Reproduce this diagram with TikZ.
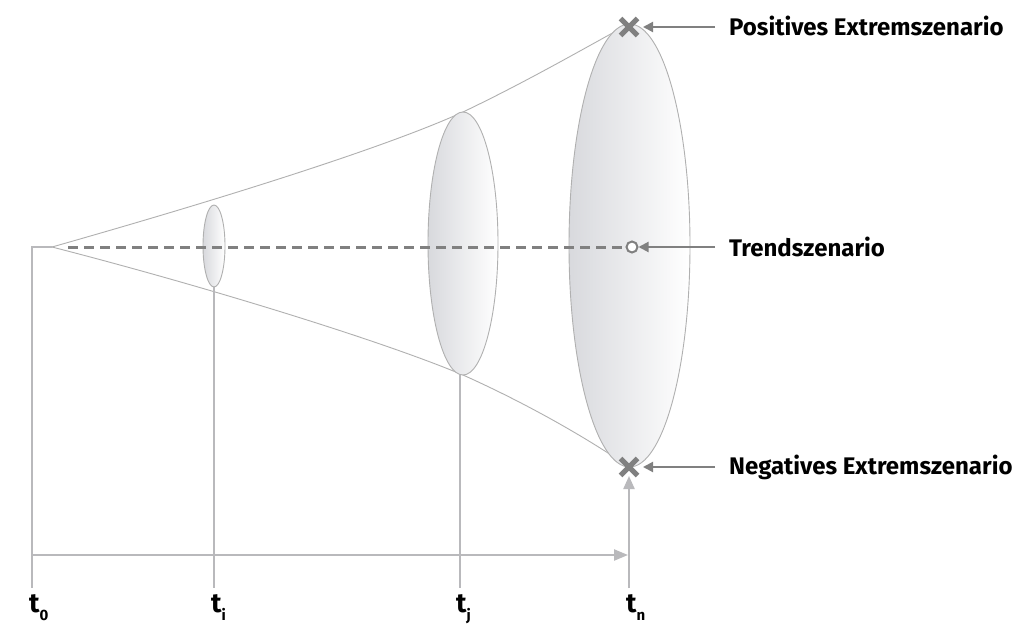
\documentclass[tikz,border=0pt]{standalone}
\usepackage{fontspec}
\setsansfont{Fira Sans}
\usetikzlibrary{arrows.meta,calc}
\definecolor{shade}{RGB}{216,217,221}
\definecolor{edge}{RGB}{176,176,176}
\definecolor{darkg}{RGB}{128,128,128}
\definecolor{axisg}{RGB}{185,185,188}
\tikzset{
  conel/.style={draw=edge,line width=0.9pt},
  ell/.style={draw=edge,line width=0.9pt,left color=shade,right color=white,shading angle=90},
  vline/.style={draw=axisg,line width=1.2pt},
  lab/.style={font=\sffamily\bfseries\fontsize{24}{28}\selectfont,anchor=west,inner sep=0pt},
  tlab/.style={font=\sffamily\bfseries\fontsize{27}{28}\selectfont,anchor=north west,inner sep=0pt},
  pointer/.style={draw=darkg,line width=2pt,-{Triangle[length=10pt,width=10pt]}},
  xmark/.style={draw=darkg,line width=5pt},
}
\begin{document}
\begin{tikzpicture}[x=1pt,y=-1pt]
\useasboundingbox (0,0) rectangle (1034,626);
\fill[white] (0,0) rectangle (1034,626);
% coordinates
\coordinate (apex) at (52,247);
\coordinate (T0) at (32,247);
\coordinate (Tb) at (32,588);
% cone
\draw[conel] (apex) .. controls (200,205) and (380,150) .. (463,112) .. controls (530,80) and (590,45) .. (629,24);
\draw[conel] (apex) .. controls (200,285) and (380,340) .. (463,375) .. controls (530,405) and (590,440) .. (629,467);
% vertical lines
\draw[vline] (apex) -- (T0) -- (Tb);
\draw[vline] (214,287) -- (214,588);
\draw[vline] (460,375) -- (460,588);
% ellipses
\shade[ell] (214,246) ellipse [x radius=11, y radius=41];
\shade[ell] (463,243.5) ellipse [x radius=35, y radius=131.5];
\shade[ell] (629.5,245.5) ellipse [x radius=60.5, y radius=221.5];
% trend dashed line
\node[circle,draw=darkg,line width=2pt,minimum size=11pt,inner sep=0pt,fill=white] (trend) at (632,247) {};
\draw[draw=darkg,line width=3pt,dash pattern=on 10pt off 6pt] (68,247) -- (trend.west);
% axis
\draw[draw=axisg,line width=2.2pt,-{Triangle[length=14pt,width=11pt]}] (32,555) -- (628,555);
\draw[draw=axisg,line width=2.2pt,-{Triangle[length=13pt,width=11pt]}] (629,588) -- (629,476);
% X marks
\coordinate (xp) at (629,27);
\coordinate (xn) at (629,467);
\draw[xmark] ($(xp)+(-8.5,-8.5)$) -- ($(xp)+(8.5,8.5)$) ($(xp)+(-8.5,8.5)$) -- ($(xp)+(8.5,-8.5)$);
\draw[xmark] ($(xn)+(-8.5,-8.5)$) -- ($(xn)+(8.5,8.5)$) ($(xn)+(-8.5,8.5)$) -- ($(xn)+(8.5,-8.5)$);
% labels
\node[lab] (lp) at (729,26) {Positives Extremszenario};
\node[lab] (lt) at (729,247) {Trendszenario};
\node[lab] (ln) at (729,467) {Negatives Extremszenario};
\draw[pointer] ($(lp.west)+(-14,1)$) -- ($(xp)+(14,0)$);
\draw[pointer] ($(lt.west)+(-14,0)$) -- (trend.east);
\draw[pointer] ($(ln.west)+(-14,0)$) -- ($(xn)+(14,0)$);
% time labels
\node[tlab] (t0) at (29,594) {t\raisebox{-8pt}{\fontsize{15}{15}\selectfont 0}};
\node[tlab] (ti) at (211,594) {t\raisebox{-8pt}{\fontsize{15}{15}\selectfont i}};
\node[tlab] (tj) at (456,594) {t\raisebox{-8pt}{\fontsize{15}{15}\selectfont j}};
\node[tlab] (tn) at (626,594) {t\raisebox{-8pt}{\fontsize{15}{15}\selectfont n}};
\end{tikzpicture}
\end{document}
